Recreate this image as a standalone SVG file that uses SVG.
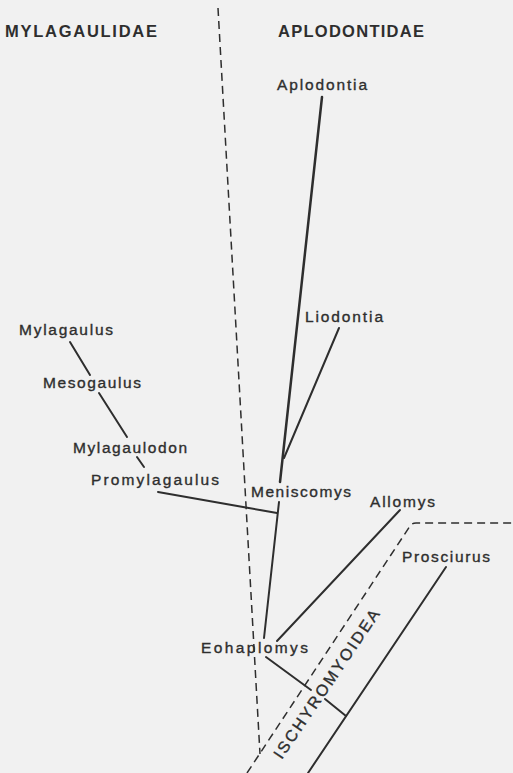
<svg xmlns="http://www.w3.org/2000/svg" width="513" height="773" viewBox="0 0 513 773">
<style>
.t{font-family:"Liberation Sans",Arial,sans-serif;font-size:15.5px;fill:#2e2e2e;stroke:#2e2e2e;stroke-width:0.35}
.h{font-family:"Liberation Sans",Arial,sans-serif;font-size:16.5px;font-weight:bold;fill:#2e2e2e}
.s{stroke:#2e2e2e;stroke-width:2;fill:none;stroke-linecap:round}
.d{stroke:#2e2e2e;stroke-width:1.5;fill:none;stroke-dasharray:8 5}
</style>
<rect width="513" height="773" fill="#f1f1f1"/>
<g id="headers">
<text class="h" x="5" y="37" textLength="152" lengthAdjust="spacing">MYLAGAULIDAE</text>
<text class="h" x="278" y="37" textLength="146" lengthAdjust="spacing">APLODONTIDAE</text>
</g>
<g id="boundaries">
<path class="d" d="M218,8 L260,754"/>
<path class="d" d="M247,773 L410,526 Q412,523 416,523 L513,523"/>
</g>
<g id="connectors">
<path class="s" style="stroke-width:2.5" d="M322,97 L280,482"/>
<path class="s" d="M339,328 L284,458"/>
<path class="s" d="M279,502 L264,638"/>
<path class="s" d="M158,492 L277,513"/>
<path class="s" d="M70,342 L90,375"/>
<path class="s" d="M99,393 L127,437"/>
<path class="s" d="M137,457 L144,467"/>
<path class="s" d="M400,510 L277,641"/>
<path class="s" d="M446,567 L308,773"/>
<path class="s" d="M266,657 L311,690"/>
<path class="s" d="M325,699 L346,716"/>
</g>
<g id="n-aplodontia"><text class="t" x="277" y="90" textLength="90" lengthAdjust="spacing">Aplodontia</text></g>
<g id="n-liodontia"><text class="t" x="305" y="322" textLength="78" lengthAdjust="spacing">Liodontia</text></g>
<g id="n-mylagaulus"><text class="t" x="19" y="335" textLength="94" lengthAdjust="spacing">Mylagaulus</text></g>
<g id="n-mesogaulus"><text class="t" x="43" y="388" textLength="98" lengthAdjust="spacing">Mesogaulus</text></g>
<g id="n-mylagaulodon"><text class="t" x="73" y="453" textLength="114" lengthAdjust="spacing">Mylagaulodon</text></g>
<g id="n-promylagaulus"><text class="t" x="91" y="485" textLength="128" lengthAdjust="spacing">Promylagaulus</text></g>
<g id="n-meniscomys"><text class="t" x="251" y="497" textLength="100" lengthAdjust="spacing">Meniscomys</text></g>
<g id="n-allomys"><text class="t" x="370" y="507" textLength="65" lengthAdjust="spacing">Allomys</text></g>
<g id="n-prosciurus"><text class="t" x="402" y="562" textLength="88" lengthAdjust="spacing">Prosciurus</text></g>
<g id="n-eohaplomys"><text class="t" x="201" y="653" textLength="107" lengthAdjust="spacing">Eohaplomys</text></g>
<g id="n-ischyromyoidea"><text class="t" style="font-size:16px" x="0" y="0" text-anchor="middle" textLength="176" lengthAdjust="spacing" transform="translate(331,687) rotate(-56)">ISCHYROMYOIDEA</text></g>
</svg>
